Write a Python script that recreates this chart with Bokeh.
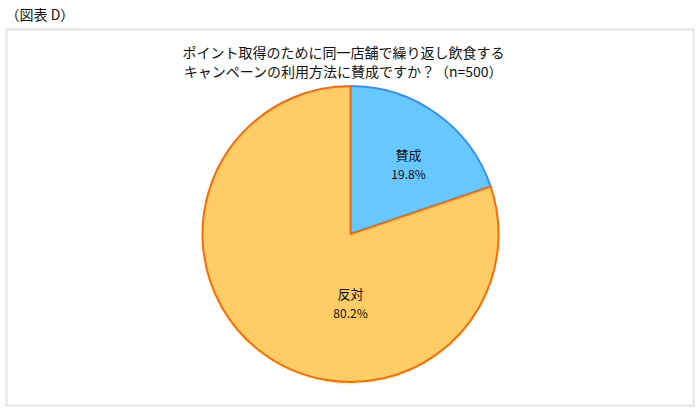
import numpy as np
from bokeh.plotting import figure
from bokeh.models import Range1d
from bokeh.core.properties import value
from bokeh.embed import file_html
from bokeh.resources import INLINE

# ---- data ----
categories = ["賛成", "反対"]
shares = [19.8, 80.2]
fill_colors = ["#66C8FF", "#FFCC66"]
line_colors = ["#2A95F5", "#FF6A00"]
title_lines = ["ポイント取得のために同一店舗で繰り返し飲食する",
               "キャンペーンの利用方法に賛成ですか？（n=500）"]
caption = "（図表 D）"

# ---- layout (y measured upward from the bottom of the figure) ----
W, H = 700, 412
FONT = "Noto Sans CJK JP"
cx, cy, r = 350, 178.5, 148
label_offsets = [(58, 80), (0, -59)]  # first label line offset from pie centre

p = figure(width=W, height=H, output_backend="svg", toolbar_location=None,
           x_range=Range1d(0, W), y_range=Range1d(0, H),
           min_border=0, outline_line_color=None)
p.axis.visible = False
p.grid.visible = False
p.background_fill_color = "white"
p.border_fill_color = "white"

# frame
p.quad(left=[5.5], right=[693.5], bottom=[6.5], top=[383.5], fill_color=None,
       line_color="#d6d6d6", line_width=1)
p.quad(left=[7], right=[692], bottom=[8], top=[382], fill_color=None,
       line_color="#eeeeee", line_width=1)

# pie: start at top, go clockwise
vals = np.array(shares, dtype=float)
frac = vals / vals.sum()
cum = np.concatenate([[0], np.cumsum(frac)])
end_ang = np.pi / 2 - 2 * np.pi * cum[:-1]
start_ang = np.pi / 2 - 2 * np.pi * cum[1:]
for i in range(len(categories)):
    p.wedge(x=cx, y=cy, radius=r, start_angle=start_ang[i], end_angle=end_ang[i],
            direction="anticlock", fill_color=fill_colors[i],
            line_color=line_colors[i], line_width=2)

# labels
for i, cat in enumerate(categories):
    dx, dy = label_offsets[i]
    p.text(x=[cx + dx], y=[cy + dy], text=[cat], text_font=value(FONT),
           text_font_size="13px", text_align="center", text_baseline="middle",
           text_color="#111111")
    p.text(x=[cx + dx], y=[cy + dy - 19], text=[f"{shares[i]:.1f}%"],
           text_font=value(FONT), text_font_size="12px", text_align="center",
           text_baseline="middle", text_color="#111111")

# title
p.text(x=[343, 343], y=[361, 342], text=title_lines, text_font=value(FONT),
       text_font_size="14px", text_align="center", text_baseline="middle",
       text_color="#111111")

# caption
p.text(x=[5], y=[399], text=[caption], text_font=value(FONT),
       text_font_size="14px", text_align="left", text_baseline="middle",
       text_color="#111111")

open("out.html", "w").write(file_html(p, INLINE))
